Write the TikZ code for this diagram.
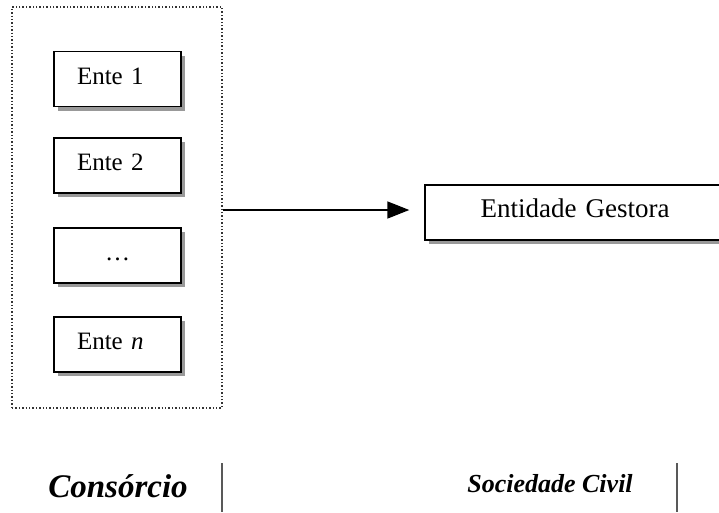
\documentclass[tikz,border=0pt]{standalone}
\usepackage{fontspec}
\setmainfont{Liberation Serif}
\usetikzlibrary{arrows.meta,shadows}

\tikzset{
  ente/.style={draw, line width=1.4pt, fill=white, minimum height=55pt,
    inner xsep=23pt, text width=81pt, align=left,
    text height=16pt, text depth=6pt,
    font=\fontsize{25}{28}\selectfont,
    drop shadow={shadow xshift=4pt, shadow yshift=-4pt, fill=gray!80, opacity=1}},
  grupo/.style={draw=black!80, dotted, line width=1.4pt, minimum width=210pt, minimum height=401pt},
  seta/.style={line width=1.6pt, -{Triangle[length=22pt,width=17pt]}, shorten >=15pt},
  divisa/.style={gray!70!black, line width=1.3pt},
  rotulo/.style={font=\bfseries\itshape, anchor=base}
}

\begin{document}
\begin{tikzpicture}[x=1pt,y=-1pt]
    \useasboundingbox (0,0) rectangle (719,512);
    % consorcio
    \node (grupo) [grupo] at (117,207.5) {};
    \node (e1) [ente] at (117.5,79) {Ente 1};
    \node (e2) [ente] at (117.5,165.5) {Ente 2};
    \node (e3) [ente, align=center] at (117.5,255.5) {\dots};
    \node (en) [ente] at (117.5,344.5) {Ente \textit{n}};
    % entidade gestora (cortada na borda direita)
    \node (gestora) [ente, text width=254pt, align=center, font=\fontsize{27}{30}\selectfont] at (575,212.5) {Entidade Gestora};
    \draw [seta] (grupo.east |- 0,210) -- (gestora.west |- 0,210);
    % rodape
    \node (cons) [rotulo, font=\fontsize{33}{36}\bfseries\itshape\selectfont] at (118,497) {Consórcio};
    \node (soc) [rotulo, font=\fontsize{26}{29}\bfseries\itshape\selectfont] at (550,492) {Sociedade Civil};
    \coordinate (d1a) at (222,463);
    \coordinate (d1b) at (222,512);
    \coordinate (d2a) at (677,463);
    \coordinate (d2b) at (677,512);
    \draw [divisa] (d1a) -- (d1b);
    \draw [divisa] (d2a) -- (d2b);
\end{tikzpicture}
\end{document}
